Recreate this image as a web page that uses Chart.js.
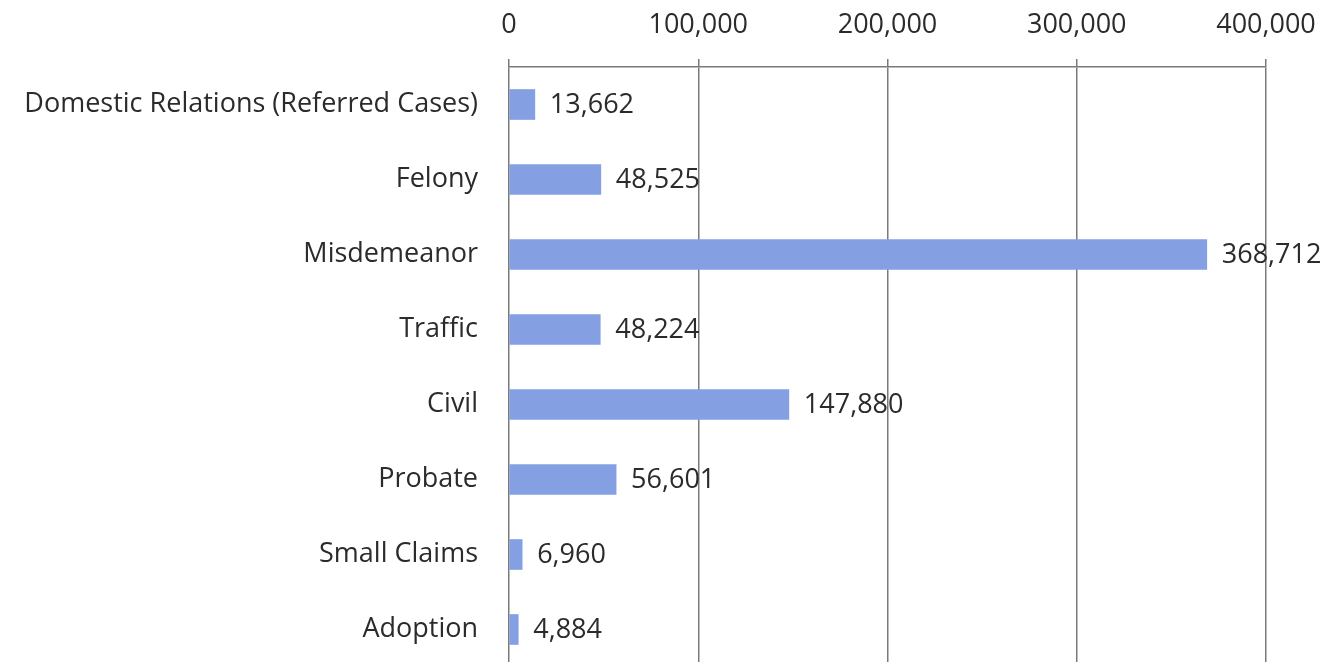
<!DOCTYPE html>
<html>
<head>
<meta charset="utf-8">
<script src="https://cdn.jsdelivr.net/npm/chart.js@4"></script>
<style>
  html, body { margin: 0; padding: 0; background: #fff; overflow: hidden; }
  #wrap { width: 1341px; height: 667px; }
</style>
</head>
<body>
<div id="wrap"><canvas id="caseChart" width="1341" height="667"></canvas></div>
<script>
const categories = [
  'Domestic Relations (Referred Cases)',
  'Felony',
  'Misdemeanor',
  'Traffic',
  'Civil',
  'Probate',
  'Small Claims',
  'Adoption'
];
const caseCounts = [13662, 48525, 368712, 48224, 147880, 56601, 6960, 4884];
const xTicks = [0, 100000, 200000, 300000, 400000];

const FONT = '"Open Sans", Lato, sans-serif';
const SIZE = 27;
const TEXT = '#2b2b2b';

// value labels at the end of each bar
const valueLabels = {
  id: 'valueLabels',
  afterDatasetsDraw(chart) {
    const ctx = chart.ctx;
    const meta = chart.getDatasetMeta(0);
    ctx.save();
    ctx.font = SIZE + 'px ' + FONT;
    ctx.fillStyle = TEXT;
    ctx.textAlign = 'left';
    ctx.textBaseline = 'middle';
    meta.data.forEach((bar, i) => {
      ctx.fillText(caseCounts[i].toLocaleString('en-US'), bar.x + 15, bar.y + 1);
    });
    ctx.restore();
  }
};

new Chart(document.getElementById('caseChart'), {
  type: 'bar',
  data: {
    labels: categories,
    datasets: [{
      data: caseCounts,
      backgroundColor: '#84a0e3',
      barThickness: 30
    }]
  },
  options: {
    indexAxis: 'y',
    responsive: false,
    animation: false,
    layout: { padding: { left: 0, right: 75, top: 0, bottom: 0 } },
    plugins: {
      legend: { display: false },
      tooltip: { enabled: false }
    },
    scales: {
      x: {
        position: 'top',
        min: 0,
        max: 400000,
        afterBuildTicks: scale => { scale.ticks = xTicks.map(v => ({ value: v })); },
        afterFit: scale => { scale.height = 67; },
        ticks: {
          padding: 17,
          color: TEXT,
          font: { family: FONT, size: SIZE },
          callback: v => v.toLocaleString('en-US')
        },
        grid: {
          color: '#7a7a7a',
          lineWidth: 1.5,
          tickLength: 8
        },
        border: { display: true, color: '#7a7a7a', width: 1.5 }
      },
      y: {
        afterFit: scale => {
          scale.width = 509;
          scale.paddingTop = 0;
          scale.paddingBottom = 0;
        },
        ticks: {
          padding: 23,
          color: TEXT,
          font: { family: FONT, size: SIZE }
        },
        grid: { display: false },
        border: { display: false }
      }
    }
  },
  plugins: [valueLabels]
});
</script>
</body>
</html>
